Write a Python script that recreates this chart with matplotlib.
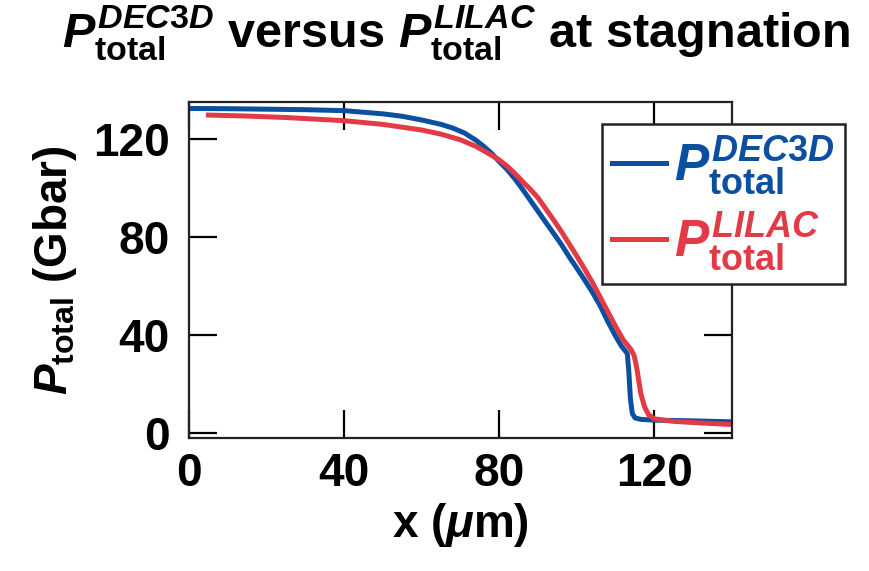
import matplotlib
matplotlib.use('Agg')
import matplotlib.pyplot as plt

# Total pressure profiles at stagnation (x in um, P in Gbar)
x_dec3d = [0, 10, 20, 30, 40, 50, 55, 60, 65, 68, 71, 74, 76, 78, 80, 82, 84,
           86, 88, 90, 92, 94, 96, 98, 100, 102, 104, 106, 108, 110, 111.5,
           112.5, 113.0, 113.4, 113.8, 114.3, 115, 116.5, 120, 130, 140]
p_dec3d = [132.5, 132.4, 132.2, 132.0, 131.6, 130.3, 129.3, 127.8, 126.0, 124.5,
           122.5, 119.5, 117.0, 114.2, 110.8, 107.6, 103.8, 99.5, 95.0, 90.5,
           86.0, 81.5, 77.0, 72.0, 67.3, 62.5, 57.5, 52.0, 45.5, 39.5, 35.5,
           33.5, 32.5, 25.0, 14.0, 8.0, 6.2, 5.6, 5.3, 5.0, 4.6]

x_lilac = [5, 15, 25, 40, 50, 60, 65, 70, 74, 77, 80, 82, 84, 86, 88, 90, 92,
           94, 96, 98, 100, 102, 104, 106, 108, 110, 112, 113, 114, 114.8,
           115.5, 116.5, 117.5, 118.5, 120, 125, 130, 140]
p_lilac = [129.8, 129.4, 128.8, 127.5, 126.0, 123.7, 122.0, 119.7, 117.0, 114.3,
           111.5, 109.0, 106.0, 102.7, 99.5, 96.0, 91.5, 87.0, 82.3, 77.3, 72.2,
           67.0, 61.5, 55.5, 49.5, 43.5, 38.0, 36.0, 34.0, 31.5, 26.0, 16.0,
           10.5, 7.5, 5.8, 4.8, 4.3, 3.5]

xticks = [0, 40, 80, 120]
yticks = [0, 40, 80, 120]

BLUE = '#0b4fa0'
RED = '#e23b45'
FONT = 'Liberation Sans'

plt.rcParams['font.family'] = [FONT, 'DejaVu Sans']
plt.rcParams['font.weight'] = 'bold'
plt.rcParams['axes.labelweight'] = 'bold'
plt.rcParams['mathtext.fontset'] = 'custom'
plt.rcParams['mathtext.rm'] = FONT + ':bold'
plt.rcParams['mathtext.bf'] = FONT + ':bold'
plt.rcParams['mathtext.it'] = FONT + ':bold:italic'
plt.rcParams['mathtext.sf'] = FONT + ':bold'

fs = 33

fig = plt.figure(figsize=(8.7, 5.71), dpi=100)
ax = fig.add_axes([0.2172, 0.2329, 0.6242, 0.5879])

ax.plot(x_dec3d, p_dec3d, color=BLUE, lw=3.6, solid_joinstyle='round',
        label=r'$P^{DEC3D}_{\mathrm{total}}$')
ax.plot(x_lilac, p_lilac, color=RED, lw=3.6, solid_joinstyle='round',
        label=r'$P^{LILAC}_{\mathrm{total}}$')

ax.set_xlim(0, 140)
ax.set_ylim(-2, 135)
ax.set_xticks(xticks)
ax.set_yticks(yticks)
ax.tick_params(direction='in', length=20, width=1.6, top=True, right=True,
               labelsize=fs)
ax.tick_params(axis='x', pad=10)
ax.tick_params(axis='y', pad=14)
for s in ax.spines.values():
    s.set_linewidth(1.6)
    s.set_color('#222222')

ax.set_xlabel(r'x ($\mu$m)', fontsize=fs, labelpad=4)
ax.set_ylabel(r'$P_{\mathrm{total}}$ (Gbar)', fontsize=fs, labelpad=10)

fig.text(0.524, 1 - 47 / 571,
         r'$P^{DEC3D}_{\mathrm{total}}$ versus $P^{LILAC}_{\mathrm{total}}$ at stagnation',
         ha='center', va='baseline', fontsize=35)

leg = ax.legend(loc='upper left', bbox_to_anchor=(602 / 870, 1 - 124 / 571),
                bbox_transform=fig.transFigure, fontsize=37, frameon=True,
                fancybox=False, borderaxespad=0, handlelength=1.05,
                handletextpad=0.15, borderpad=0.2, labelspacing=0.25,
                labelcolor='linecolor')
leg.get_frame().set_edgecolor('#222222')
leg.get_frame().set_linewidth(1.8)
leg.get_frame().set_alpha(1)

fig.savefig('out.png', dpi=100)
